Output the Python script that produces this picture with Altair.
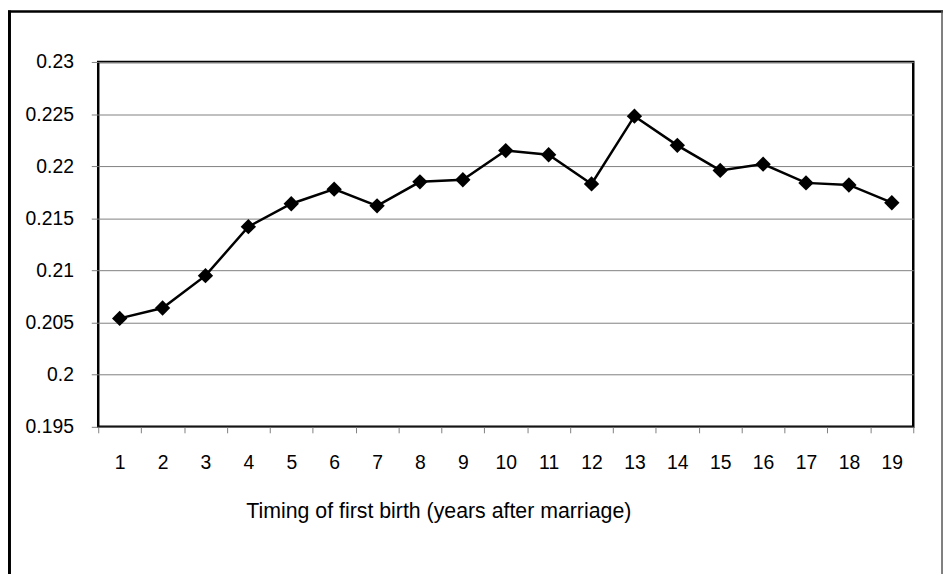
import altair as alt
import pandas as pd

years = list(range(1, 20))
values = [0.2054, 0.2064, 0.2095, 0.2142, 0.2164, 0.2178, 0.2162, 0.2185, 0.2187,
          0.2215, 0.2211, 0.2183, 0.2248, 0.2220, 0.2196, 0.2202, 0.2184, 0.2182, 0.2165]
y_ticks = [0.195, 0.2, 0.205, 0.21, 0.215, 0.22, 0.225, 0.23]
x_title = "Timing of first birth (years after marriage)"

df = pd.DataFrame({"year": years, "value": values})
FONT = "Liberation Sans"

x_enc = alt.X(
    "year:O",
    scale=alt.Scale(type="band", paddingInner=0, paddingOuter=0),
    axis=alt.Axis(
        title=x_title, labelAngle=0, tickBand="extent", grid=False, domain=False,
        tickSize=6, tickColor="#808080", labelPadding=21, labelFontSize=19.5,
        labelColor="black", labelFont=FONT, titleFont=FONT, titleFontSize=21.5,
        titleFontWeight="normal", titleColor="black", titleX=343, titleY=85,
        titleBaseline="middle", titleAlign="center",
    ),
)
y_enc = alt.Y(
    "value:Q",
    scale=alt.Scale(domain=[0.195, 0.23], nice=False, zero=False),
    axis=alt.Axis(
        title=None, values=y_ticks, format="~g", grid=True, gridColor="#808080",
        gridWidth=1, domain=False, tickSize=7, tickColor="#808080", labelPadding=18,
        labelFontSize=19.5, labelColor="black", labelFont=FONT,
    ),
)

base = alt.Chart(df)
line = base.mark_line(color="black", strokeWidth=2.5).encode(x=x_enc, y=y_enc)
pts = base.mark_point(shape="diamond", filled=True, color="black", size=240, opacity=1).encode(x=x_enc, y=y_enc)

one = pd.DataFrame({"a": [0]})
frame_left = alt.Chart(one).mark_rule(color="black", strokeWidth=3).encode(
    x=alt.value(-89.5), y=alt.value(-52), y2=alt.value(540))
frame_top = alt.Chart(one).mark_rule(color="black", strokeWidth=2.5).encode(
    x=alt.value(-91), x2=alt.value(852), y=alt.value(-51))
frame_right = alt.Chart(one).mark_rule(color="#555555", strokeWidth=1.5).encode(
    x=alt.value(851), y=alt.value(-52), y2=alt.value(540))

chart = alt.layer(frame_left, frame_top, frame_right, line, pts).properties(
    width=822, height=368,
    autosize=alt.AutoSizeParams(type="none"),
    padding={"left": 91, "top": 52, "right": 30, "bottom": 146},
    background="white",
).configure_view(stroke="black", strokeWidth=2.5)

chart.save("out.html", embed_options={"renderer": "svg", "actions": False})
